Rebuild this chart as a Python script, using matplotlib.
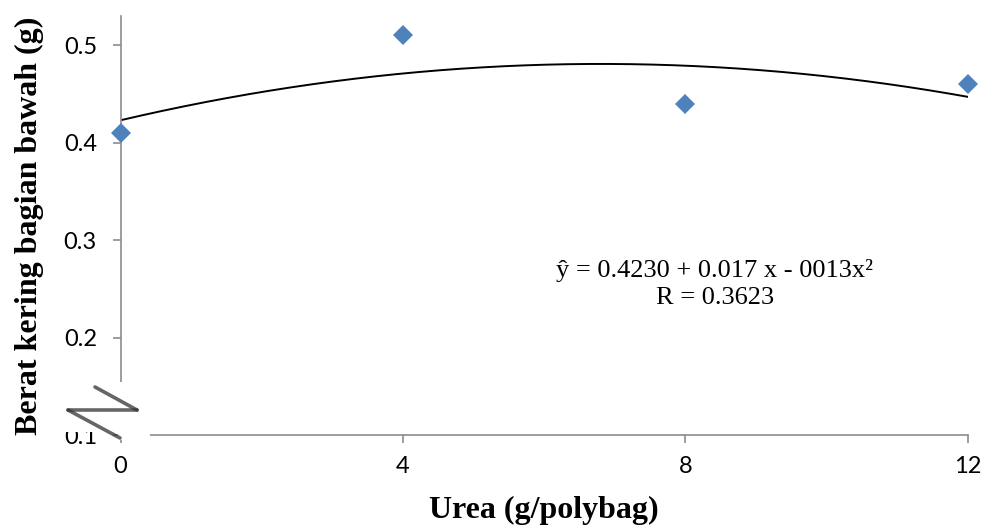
import numpy as np
import matplotlib
matplotlib.use("Agg")
import matplotlib.pyplot as plt
from matplotlib.patches import Rectangle
from matplotlib.lines import Line2D

# data
urea = [0, 4, 8, 12]
berat = [0.41, 0.51, 0.44, 0.46]
x_ticks = [0, 4, 8, 12]
y_ticks = [0.1, 0.2, 0.3, 0.4, 0.5]
equation = "ŷ = 0.4230 + 0.017 x - 0013x²"
r_text = "R = 0.3623"

W, H = 985, 529
fig = plt.figure(figsize=(W / 100, H / 100), dpi=100)
ax = fig.add_axes([120.5 / W, 1 - 435 / H, (968 - 120.5) / W, (435 - 16) / H])

# quadratic trendline through the points
coef = np.polyfit(urea, berat, 2)
xs = np.linspace(0, 12, 200)
ax.plot(xs, np.polyval(coef, xs), color="black", lw=1.4, zorder=2)
ax.plot(urea, berat, "D", color="#4F81BD", markersize=10.5, markeredgewidth=0, zorder=3, clip_on=False)

ax.set_xlim(0, 12)
ax.set_ylim(0.1, 0.53)
ax.set_xticks(x_ticks)
ax.set_yticks(y_ticks)
ax.set_xticklabels([str(v) for v in x_ticks])
ax.set_yticklabels([f"{v:.1f}" for v in y_ticks])
for s in ["top", "right"]:
    ax.spines[s].set_visible(False)
for s in ["left", "bottom"]:
    ax.spines[s].set_color("#8c8c8c")
    ax.spines[s].set_linewidth(1.2)
ax.tick_params(axis="both", colors="#8c8c8c", length=6, width=1.2, labelsize=17, labelcolor="black")
ax.tick_params(axis="x", pad=9)
ax.tick_params(axis="y", pad=11)
for lab in ax.get_xticklabels() + ax.get_yticklabels():
    lab.set_family("Lato")

ax.set_xlabel("Urea (g/polybag)", family="Liberation Serif", fontweight="bold", fontsize=23, labelpad=14)
ax.set_ylabel("Berat kering bagian bawah (g)", family="Liberation Serif", fontweight="bold", fontsize=23, labelpad=14)

ax.text(715 / W, 1 - 270 / H, equation, transform=fig.transFigure, ha="center", va="center",
        family="Liberation Serif", fontsize=19)
ax.text(715 / W, 1 - 298 / H, r_text, transform=fig.transFigure, ha="center", va="center",
        family="Liberation Serif", fontsize=19)

# axis break mark
def fx(px):
    return px / W

def fy(py):
    return 1 - py / H

fig.add_artist(Rectangle((fx(66), fy(432)), fx(84), 50 / H, transform=fig.transFigure,
                         facecolor="white", edgecolor="none", zorder=5))
fig.add_artist(Rectangle((fx(118), fy(440)), fx(32), 10 / H, transform=fig.transFigure,
                         facecolor="white", edgecolor="none", zorder=5))
for (x0, y0), (x1, y1) in [((95, 387), (137, 410)), ((68, 410), (137, 410)), ((68, 410), (120, 438))]:
    fig.add_artist(Line2D([fx(x0), fx(x1)], [fy(y0), fy(y1)], transform=fig.transFigure,
                          color="#333333", lw=2.6, alpha=0.75, zorder=6, solid_capstyle="round"))

fig.savefig("out.png", dpi=100)
